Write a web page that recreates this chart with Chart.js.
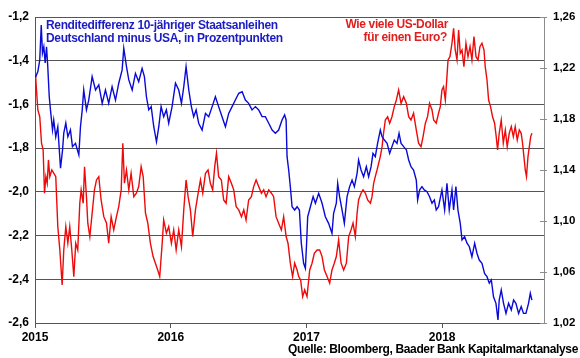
<!DOCTYPE html>
<html lang="de">
<head>
<meta charset="UTF-8">
<title>Renditedifferenz und Euro-Dollar</title>
<script src="https://cdn.jsdelivr.net/npm/chart.js"></script>
<style>
  html, body { margin: 0; padding: 0; background: #fff; }
</style>
</head>
<body>
<canvas id="chart" width="580" height="358"></canvas>
<script>
// x = Jahr als Dezimalzahl
const yearTicks = [2015, 2016, 2017, 2018];
const spreadTicks = [-2.6, -2.4, -2.2, -2.0, -1.8, -1.6, -1.4, -1.2];
const fxTicks = [1.02, 1.06, 1.10, 1.14, 1.18, 1.22, 1.26];

// Renditedifferenz 10J Bund minus US-Treasury (linke Achse)
const spreadSeries = [
  [2015.004, -1.475], [2015.021, -1.450], [2015.035, -1.397], [2015.046, -1.237], [2015.055, -1.365],
  [2015.065, -1.336], [2015.075, -1.410], [2015.085, -1.336], [2015.094, -1.427], [2015.105, -1.565],
  [2015.114, -1.625], [2015.129, -1.717], [2015.138, -1.671], [2015.153, -1.748], [2015.168, -1.702],
  [2015.188, -1.892], [2015.203, -1.808], [2015.212, -1.731], [2015.227, -1.685], [2015.242, -1.748],
  [2015.261, -1.717], [2015.276, -1.793], [2015.298, -1.778], [2015.323, -1.831], [2015.335, -1.702],
  [2015.348, -1.625], [2015.359, -1.534], [2015.379, -1.625], [2015.396, -1.580], [2015.421, -1.473],
  [2015.446, -1.534], [2015.470, -1.511], [2015.495, -1.595], [2015.519, -1.534], [2015.543, -1.595],
  [2015.568, -1.519], [2015.593, -1.580], [2015.617, -1.503], [2015.642, -1.442], [2015.654, -1.343],
  [2015.674, -1.427], [2015.691, -1.488], [2015.716, -1.534], [2015.740, -1.458], [2015.764, -1.496],
  [2015.789, -1.435], [2015.806, -1.473], [2015.821, -1.565], [2015.838, -1.625], [2015.856, -1.610],
  [2015.875, -1.702], [2015.895, -1.771], [2015.912, -1.702], [2015.929, -1.610], [2015.948, -1.656],
  [2015.968, -1.625], [2015.985, -1.686],
  [2016.010, -1.610], [2016.035, -1.503], [2016.059, -1.534], [2016.079, -1.595], [2016.096, -1.519],
  [2016.113, -1.427], [2016.133, -1.534], [2016.152, -1.610], [2016.169, -1.656], [2016.187, -1.625],
  [2016.206, -1.686], [2016.231, -1.717], [2016.256, -1.641], [2016.280, -1.656], [2016.305, -1.610],
  [2016.329, -1.565], [2016.353, -1.610], [2016.378, -1.656], [2016.403, -1.702], [2016.427, -1.641],
  [2016.452, -1.610], [2016.476, -1.580], [2016.501, -1.549], [2016.526, -1.542], [2016.550, -1.580],
  [2016.574, -1.595], [2016.599, -1.625], [2016.624, -1.610], [2016.648, -1.625], [2016.673, -1.656],
  [2016.697, -1.656], [2016.722, -1.686], [2016.747, -1.717], [2016.771, -1.732], [2016.795, -1.717],
  [2016.820, -1.671], [2016.839, -1.648], [2016.850, -1.671], [2016.857, -1.839], [2016.869, -1.900],
  [2016.881, -1.976], [2016.894, -2.068], [2016.913, -2.083], [2016.931, -2.068], [2016.948, -2.083],
  [2016.962, -2.235], [2016.979, -2.327], [2016.992, -2.350], [2017.001, -2.235],
  [2017.009, -2.114], [2017.029, -2.068], [2017.049, -2.022], [2017.066, -2.052], [2017.090, -2.007],
  [2017.115, -2.052], [2017.139, -2.114], [2017.163, -2.144], [2017.188, -2.190], [2017.200, -2.098],
  [2017.220, -2.052], [2017.230, -1.961], [2017.244, -2.022], [2017.262, -2.083], [2017.279, -2.144],
  [2017.299, -2.022], [2017.318, -1.976], [2017.336, -1.946], [2017.353, -1.976], [2017.373, -1.915],
  [2017.384, -1.854], [2017.402, -1.900], [2017.421, -1.931], [2017.441, -1.885], [2017.458, -1.931],
  [2017.476, -1.885], [2017.490, -1.824], [2017.507, -1.839], [2017.524, -1.778], [2017.544, -1.717],
  [2017.557, -1.748], [2017.574, -1.763], [2017.594, -1.778], [2017.613, -1.824], [2017.630, -1.793],
  [2017.647, -1.763], [2017.667, -1.778], [2017.682, -1.732], [2017.697, -1.778], [2017.716, -1.793],
  [2017.736, -1.808], [2017.753, -1.854], [2017.770, -1.885], [2017.789, -1.900], [2017.809, -1.946],
  [2017.819, -2.037], [2017.834, -1.991], [2017.851, -1.976], [2017.868, -1.991], [2017.888, -1.999],
  [2017.907, -2.022], [2017.925, -2.052], [2017.942, -2.037], [2017.956, -2.083], [2017.973, -2.068],
  [2017.998, -1.991],
  [2018.018, -2.083], [2018.035, -1.961], [2018.052, -2.083], [2018.072, -1.991], [2018.084, -2.083],
  [2018.101, -1.976], [2018.116, -2.083], [2018.133, -2.144], [2018.146, -2.220], [2018.165, -2.205],
  [2018.183, -2.235], [2018.200, -2.251], [2018.219, -2.297], [2018.239, -2.235], [2018.256, -2.281],
  [2018.273, -2.312], [2018.293, -2.327], [2018.312, -2.373], [2018.330, -2.388], [2018.347, -2.418],
  [2018.362, -2.403], [2018.378, -2.480], [2018.396, -2.510], [2018.411, -2.586], [2018.420, -2.495],
  [2018.435, -2.449], [2018.452, -2.510], [2018.470, -2.556], [2018.489, -2.510], [2018.509, -2.540],
  [2018.526, -2.495], [2018.543, -2.510], [2018.563, -2.556], [2018.582, -2.525], [2018.599, -2.556],
  [2018.617, -2.556], [2018.636, -2.510], [2018.649, -2.464], [2018.661, -2.495]
];

// EUR/USD (rechte Achse)
const fxSeries = [
  [2015.004, 1.2145], [2015.011, 1.2028], [2015.021, 1.1871], [2015.035, 1.1818], [2015.048, 1.1610],
  [2015.060, 1.1557], [2015.070, 1.1218], [2015.080, 1.1348], [2015.090, 1.1296], [2015.099, 1.1479],
  [2015.109, 1.1348], [2015.124, 1.1400], [2015.138, 1.1375], [2015.153, 1.1348], [2015.168, 1.0956],
  [2015.183, 1.0773], [2015.200, 1.0499], [2015.212, 1.0773], [2015.227, 1.0956], [2015.242, 1.0826],
  [2015.256, 1.0956], [2015.271, 1.0773], [2015.286, 1.0564], [2015.300, 1.0826], [2015.315, 1.0773],
  [2015.330, 1.1139], [2015.340, 1.1244], [2015.355, 1.1139], [2015.365, 1.1426], [2015.379, 1.1191],
  [2015.389, 1.0983], [2015.404, 1.0878], [2015.421, 1.1061], [2015.438, 1.1244], [2015.453, 1.1322],
  [2015.470, 1.1348], [2015.487, 1.1165], [2015.507, 1.1034], [2015.527, 1.0983], [2015.543, 1.0826],
  [2015.561, 1.1034], [2015.580, 1.0930], [2015.600, 1.1034], [2015.617, 1.1113], [2015.635, 1.1244],
  [2015.647, 1.1610], [2015.659, 1.1296], [2015.674, 1.1400], [2015.691, 1.1244], [2015.708, 1.1375],
  [2015.728, 1.1191], [2015.747, 1.1218], [2015.764, 1.1270], [2015.782, 1.1426], [2015.797, 1.1348],
  [2015.814, 1.1061], [2015.831, 1.0983], [2015.850, 1.0826], [2015.870, 1.0721], [2015.887, 1.0669],
  [2015.904, 1.0616], [2015.919, 1.0564], [2015.937, 1.0826], [2015.948, 1.1008], [2015.968, 1.0904],
  [2015.985, 1.0956],
  [2016.005, 1.0826], [2016.022, 1.0930], [2016.040, 1.0773], [2016.059, 1.0930], [2016.079, 1.0799],
  [2016.096, 1.1087], [2016.113, 1.1322], [2016.128, 1.1191], [2016.145, 1.1087], [2016.162, 1.0878],
  [2016.182, 1.1087], [2016.202, 1.1218], [2016.219, 1.1322], [2016.236, 1.1218], [2016.256, 1.1375],
  [2016.275, 1.1400], [2016.292, 1.1296], [2016.309, 1.1244], [2016.324, 1.1426], [2016.337, 1.1531],
  [2016.353, 1.1348], [2016.373, 1.1322], [2016.390, 1.1165], [2016.408, 1.1139], [2016.427, 1.1348],
  [2016.447, 1.1296], [2016.464, 1.1244], [2016.482, 1.1113], [2016.501, 1.1087], [2016.521, 1.1034],
  [2016.538, 1.1087], [2016.555, 1.1008], [2016.574, 1.1165], [2016.594, 1.1191], [2016.611, 1.1270],
  [2016.629, 1.1322], [2016.648, 1.1270], [2016.668, 1.1218], [2016.685, 1.1244], [2016.702, 1.1191],
  [2016.722, 1.1244], [2016.742, 1.1218], [2016.758, 1.1191], [2016.776, 1.1034], [2016.795, 1.0983],
  [2016.815, 1.0930], [2016.832, 1.1034], [2016.850, 1.0878], [2016.864, 1.0826], [2016.881, 1.0669],
  [2016.898, 1.0564], [2016.913, 1.0669], [2016.931, 1.0616], [2016.943, 1.0564], [2016.957, 1.0538],
  [2016.972, 1.0407], [2016.987, 1.0460],
  [2017.004, 1.0407], [2017.024, 1.0616], [2017.041, 1.0669], [2017.058, 1.0747], [2017.078, 1.0773],
  [2017.097, 1.0773], [2017.115, 1.0721], [2017.132, 1.0616], [2017.152, 1.0564], [2017.171, 1.0512],
  [2017.188, 1.0616], [2017.205, 1.0669], [2017.220, 1.0721], [2017.237, 1.0852], [2017.255, 1.0669],
  [2017.274, 1.0616], [2017.294, 1.0669], [2017.311, 1.0878], [2017.328, 1.0930], [2017.343, 1.0983],
  [2017.360, 1.0878], [2017.373, 1.1061], [2017.384, 1.1165], [2017.402, 1.1218], [2017.417, 1.1244],
  [2017.434, 1.1218], [2017.451, 1.1165], [2017.471, 1.1139], [2017.483, 1.1191], [2017.495, 1.1296],
  [2017.507, 1.1348], [2017.520, 1.1400], [2017.532, 1.1453], [2017.544, 1.1505], [2017.557, 1.1583],
  [2017.568, 1.1688], [2017.581, 1.1792], [2017.598, 1.1818], [2017.613, 1.1767], [2017.630, 1.1818],
  [2017.647, 1.1897], [2017.662, 1.1949], [2017.679, 1.2028], [2017.697, 1.1923], [2017.716, 1.1975],
  [2017.736, 1.1923], [2017.753, 1.1818], [2017.770, 1.1792], [2017.789, 1.1845], [2017.809, 1.1714],
  [2017.826, 1.1610], [2017.844, 1.1583], [2017.859, 1.1662], [2017.876, 1.1767], [2017.892, 1.1818],
  [2017.907, 1.1923], [2017.925, 1.1871], [2017.937, 1.1792], [2017.956, 1.1767], [2017.973, 1.1845],
  [2017.986, 1.1897], [2017.998, 1.2028],
  [2018.010, 1.2054], [2018.023, 1.1949], [2018.035, 1.2132], [2018.043, 1.2263], [2018.057, 1.2289],
  [2018.072, 1.2394], [2018.084, 1.2511], [2018.096, 1.2341], [2018.109, 1.2263], [2018.121, 1.2498],
  [2018.133, 1.2315], [2018.146, 1.2341], [2018.160, 1.2210], [2018.175, 1.2394], [2018.190, 1.2289],
  [2018.205, 1.2367], [2018.219, 1.2263], [2018.234, 1.2446], [2018.249, 1.2289], [2018.264, 1.2263],
  [2018.278, 1.2367], [2018.293, 1.2394], [2018.308, 1.2341], [2018.317, 1.2210], [2018.330, 1.2106],
  [2018.342, 1.1949], [2018.356, 1.1897], [2018.371, 1.1818], [2018.386, 1.1767], [2018.398, 1.1662],
  [2018.408, 1.1557], [2018.420, 1.1688], [2018.435, 1.1792], [2018.450, 1.1610], [2018.465, 1.1714],
  [2018.479, 1.1583], [2018.494, 1.1688], [2018.509, 1.1740], [2018.524, 1.1662], [2018.538, 1.1740],
  [2018.553, 1.1636], [2018.568, 1.1714], [2018.582, 1.1688], [2018.592, 1.1610], [2018.602, 1.1505],
  [2018.612, 1.1400], [2018.621, 1.1348], [2018.632, 1.1505], [2018.642, 1.1583], [2018.652, 1.1662],
  [2018.661, 1.1688]
];

const spreadNote = ['Renditedifferenz 10-jähriger Staatsanleihen', 'Deutschland minus USA, in Prozentpunkten'];
const fxNote = ['Wie viele US-Dollar', 'für einen Euro?'];
const sourceNote = 'Quelle: Bloomberg, Baader Bank Kapitalmarktanalyse';

const FONT = '"Liberation Sans", Arial, sans-serif';
const BLUE = '#0a0ad8';
const RED = '#ee0a0a';
const GRID = '#555555';

Chart.defaults.font.family = FONT;
Chart.defaults.font.size = 12;
Chart.defaults.font.weight = 'bold';
Chart.defaults.color = '#000';

const toPoints = s => s.map(p => ({ x: p[0], y: p[1] }));

// Texte und die Striche der rechten Achse (über die Achse hinweg)
const notes = {
    id: 'notes',
    afterDraw(chart) {
        const ctx = chart.ctx;
        const r = chart.scales.y2;
        ctx.save();
        ctx.strokeStyle = '#8c8c8c';
        ctx.lineWidth = 1;
        r.ticks.forEach(t => {
            const y = Math.round(r.getPixelForValue(t.value)) + 0.5;
            ctx.beginPath();
            ctx.moveTo(r.left - 4, y);
            ctx.lineTo(r.left + 3, y);
            ctx.stroke();
        });

        ctx.font = 'bold 12px ' + FONT;
        if ('letterSpacing' in ctx) ctx.letterSpacing = '-0.35px';
        ctx.textBaseline = 'middle';

        ctx.fillStyle = '#1c1cc4';
        ctx.textAlign = 'left';
        ctx.fillText(spreadNote[0], 46, 26);
        ctx.fillText(spreadNote[1], 46, 39);

        ctx.fillStyle = '#e01e1e';
        ctx.textAlign = 'right';
        ctx.fillText(fxNote[0], 448, 25);
        ctx.fillText(fxNote[1], 447, 38);

        ctx.fillStyle = '#000';
        ctx.fillText(sourceNote, 578, 350);
        ctx.restore();
    }
};

new Chart(document.getElementById('chart'), {
    type: 'line',
    data: {
        datasets: [
            {
                label: 'Renditedifferenz',
                data: toPoints(spreadSeries),
                yAxisID: 'y',
                borderColor: BLUE,
                borderWidth: 1.4,
                pointRadius: 0,
                tension: 0
            },
            {
                label: 'EUR/USD',
                data: toPoints(fxSeries),
                yAxisID: 'y2',
                borderColor: RED,
                borderWidth: 1.4,
                pointRadius: 0,
                tension: 0
            }
        ]
    },
    options: {
        responsive: false,
        animation: false,
        devicePixelRatio: 1,
        layout: { padding: { top: 17, left: 0, right: 0, bottom: 0 } },
        plugins: {
            legend: { display: false },
            tooltip: { enabled: false }
        },
        scales: {
            x: {
                type: 'linear',
                min: 2015,
                max: 2018.75,
                afterFit: s => { s.height = 35; },
                afterBuildTicks: s => { s.ticks = yearTicks.map(v => ({ value: v })); },
                ticks: {
                    padding: 2,
                    maxRotation: 0,
                    autoSkip: false,
                    callback: v => String(v)
                },
                grid: { drawOnChartArea: false, color: GRID, tickLength: 5 },
                border: { color: GRID, width: 1 }
            },
            y: {
                position: 'left',
                min: -2.6,
                max: -1.2,
                afterFit: s => { s.width = 35; },
                afterBuildTicks: s => { s.ticks = spreadTicks.map(v => ({ value: v })); },
                ticks: {
                    padding: 6,
                    callback: v => v.toFixed(1).replace('.', ',')
                },
                grid: { color: GRID, lineWidth: 1, drawTicks: false },
                border: { color: GRID, width: 1 }
            },
            y2: {
                position: 'right',
                min: 1.02,
                max: 1.26,
                afterFit: s => { s.width = 36; },
                afterBuildTicks: s => { s.ticks = fxTicks.map(v => ({ value: v })); },
                ticks: {
                    padding: 9,
                    font: { size: 11.5 },
                    callback: v => v.toFixed(2).replace('.', ',')
                },
                grid: { display: false, drawTicks: false, tickLength: 0 },
                border: { color: '#8c8c8c', width: 1 }
            }
        }
    },
    plugins: [notes]
});
</script>
</body>
</html>
